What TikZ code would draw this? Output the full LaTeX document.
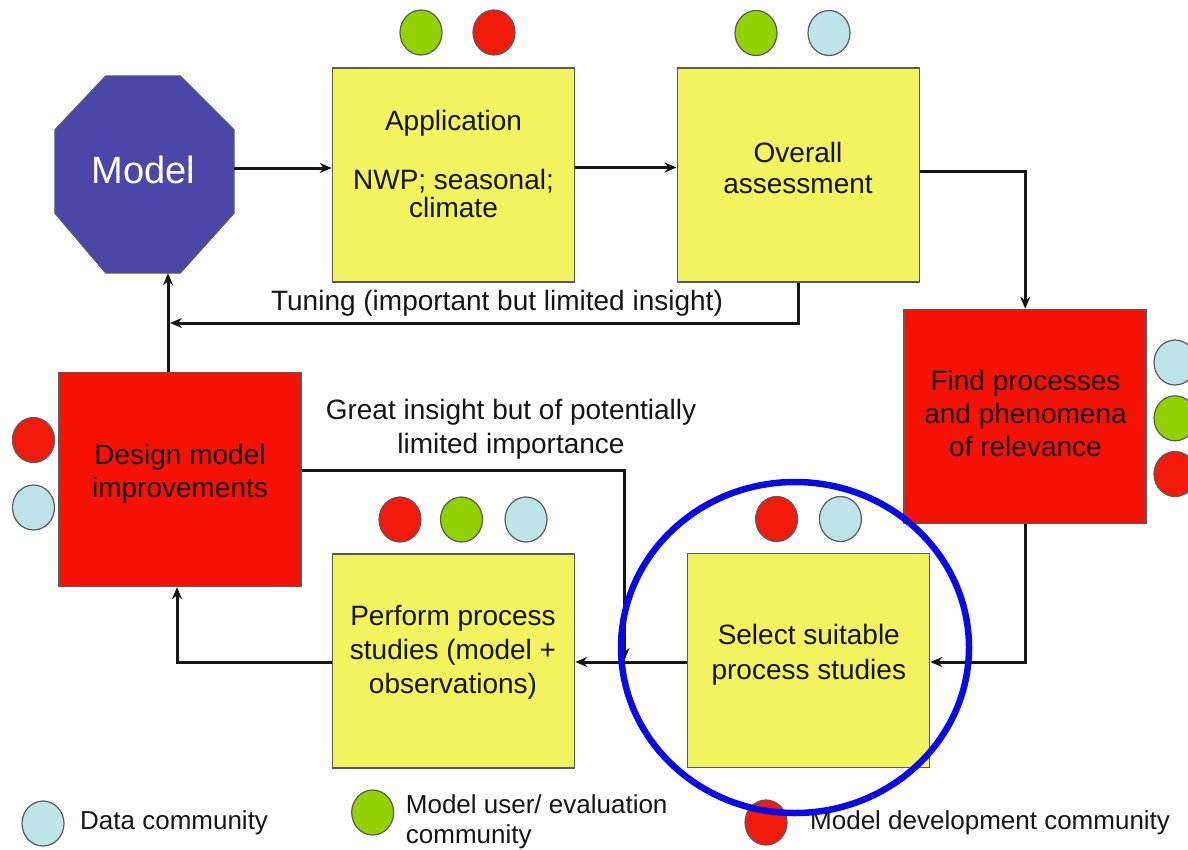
\documentclass[tikz,border=0pt]{standalone}
\usepackage{fontspec}
\setmainfont{Liberation Sans}
\usetikzlibrary{arrows.meta,shapes.geometric,calc}

\definecolor{boxyellow}{HTML}{F3F35F}
\definecolor{boxred}{HTML}{F51205}
\definecolor{modelblue}{HTML}{4B47A9}
\definecolor{dotgreen}{HTML}{91D200}
\definecolor{dotblue}{HTML}{BEE4EA}
\definecolor{dotred}{HTML}{F21A0A}
\definecolor{ringblue}{HTML}{0A0AE6}
\definecolor{edgegray}{HTML}{5A5A5A}
\definecolor{ink}{HTML}{151515}

\begin{document}
\begin{tikzpicture}[x=1pt,y=-1pt,
  stepbox/.style={rectangle, draw=edgegray, line width=1.5pt,
    minimum width=242pt, minimum height=214pt, inner sep=0pt},
  yellowbox/.style={stepbox, fill=boxyellow},
  redbox/.style={stepbox, fill=boxred},
  boxtext/.style={text=ink, align=center, inner sep=0pt,
    font=\fontsize{28}{33}\selectfont},
  note/.style={boxtext},
  legendtext/.style={text=ink, align=left, inner sep=0pt, anchor=west,
    font=\fontsize{26}{30}\selectfont},
  dot/.style={ellipse, draw=edgegray, line width=1.2pt,
    minimum width=42pt, minimum height=45pt, inner sep=0pt},
  gdot/.style={dot, fill=dotgreen},
  bdot/.style={dot, fill=dotblue},
  rdot/.style={dot, fill=dotred},
  link/.style={draw=ink, line width=3pt, -{Stealth[length=12pt,width=10pt]}},
]
\useasboundingbox (0,0) rectangle (1188,849);
\clip (0,0) rectangle (1188,849);

% ---- model octagon ----
\node[rectangle, minimum width=179pt, minimum height=197pt, inner sep=0pt]
  (model) at (144.5,174.5) {};
\filldraw[fill=modelblue, draw=edgegray, line width=1pt]
  ($(model.north west)+(51,0)$) -- ($(model.north east)+(-54,0)$)
  -- ($(model.north east)+(0,54)$) -- ($(model.south east)+(0,-60)$)
  -- ($(model.south east)+(-54,0)$) -- ($(model.south west)+(51,0)$)
  -- ($(model.south west)+(0,-60)$) -- ($(model.north west)+(0,54)$) -- cycle;
\node[text=white, inner sep=0pt, font=\fontsize{38}{40}\selectfont]
  (modelT) at (143.5,170) {Model};

% ---- process boxes ----
\node[yellowbox] (app)     at (453.5,175)   {};
\node[yellowbox] (over)    at (798.3,175)   {};
\node[redbox]    (find)    at (1025.2,416.5) {};
\node[redbox]    (design)  at (179.9,479.4) {};
\node[yellowbox] (perform) at (453.5,661)   {};
\node[yellowbox] (select)  at (808.5,660.7) {};

% ---- box texts ----
\node[boxtext] (appT1) at (453.5,123) {Application};
\node[boxtext, font=\fontsize{28}{28}\selectfont] (appT2) at (453.5,193) {NWP; seasonal;\\climate};
\node[boxtext, font=\fontsize{28}{31}\selectfont] (overT) at (798,168) {Overall\\assessment};
\node[boxtext] (findT) at (1025.5,413.5) {Find processes\\and phenomena\\of relevance};
\node[boxtext] (designT) at (180,473.5) {Design model\\improvements};
\node[boxtext, font=\fontsize{28}{34}\selectfont] (performT) at (453,652) {Perform process\\studies (model +\\observations)};
\node[boxtext, font=\fontsize{28}{35}\selectfont] (selectT) at (808.8,654.5) {Select suitable\\process studies};

% ---- community dots ----
\node[gdot] (appD1) at (421,32.5) {};
\node[rdot] (appD2) at (494,32.5) {};
\node[gdot] (overD1) at (756,33) {};
\node[bdot] (overD2) at (829,33) {};
\node[bdot] (findD1) at (1175,362.5) {};
\node[gdot] (findD2) at (1175,418.3) {};
\node[rdot] (findD3) at (1175,474) {};
\node[rdot] (designD1) at (33.5,440) {};
\node[bdot] (designD2) at (33.5,507.5) {};
\node[rdot] (performD1) at (400,519.5) {};
\node[gdot] (performD2) at (461.5,519.5) {};
\node[bdot] (performD3) at (526,519.5) {};
\node[rdot] (selectD1) at (776.6,519) {};
\node[bdot] (selectD2) at (840.4,519) {};

% ---- connector helpers ----
\coordinate (y168) at (0,168);
\coordinate (y167) at (0,167.5);
\coordinate (y171) at (0,171);
\coordinate (trunk) at (168,0);
\coordinate (tuneEnd) at (170,323);
\coordinate (greatY) at (0,470.7);
\coordinate (greatEnd) at (624.5,660);
\coordinate (lowY) at (0,662);
\coordinate (sideX) at (177,0);

% ---- connectors ----
\draw[link] (model.east |- y168) -- (app.west |- y168);
\draw[link] (app.east |- y167) -- (over.west |- y167);
\draw[link] (over.east |- y171) -| (find.north);
\draw[link] (over.south) |- (tuneEnd);
\draw[link] (design.north -| trunk) -- (model.south -| trunk);
\draw[link] (design.east |- greatY) -| (greatEnd);
\draw[link] (find.south) |- (select.east |- lowY);
\draw[link] (select.west |- lowY) -- (perform.east |- lowY);
\draw[link] (perform.west |- lowY) -| (design.south -| sideX);

% ---- connector labels ----
\node[note] (tuneT) at (497,303) {Tuning (important but limited insight)};
\node[note, font=\fontsize{28}{34}\selectfont] (greatT) at (511,429.5)
  {Great insight but of potentially\\limited importance};

% ---- legend ----
\node[bdot] (legB) at (43,823.5) {};
\node[legendtext] (legBT) at (80,823) {Data community};
\node[gdot] (legG) at (372.7,812.5) {};
\node[legendtext] (legGT) at (405.7,821.7) {Model user/ evaluation\\community};
\node[rdot] (legR) at (766,822.5) {};
\node[legendtext] (legRT) at (810,823) {Model development community};

% ---- highlight ring ----
\node[ellipse, draw=ringblue, line width=6.5pt, minimum width=348pt,
  minimum height=331pt, inner sep=0pt] (focus) at (795,647.5) {};
\end{tikzpicture}
\end{document}
